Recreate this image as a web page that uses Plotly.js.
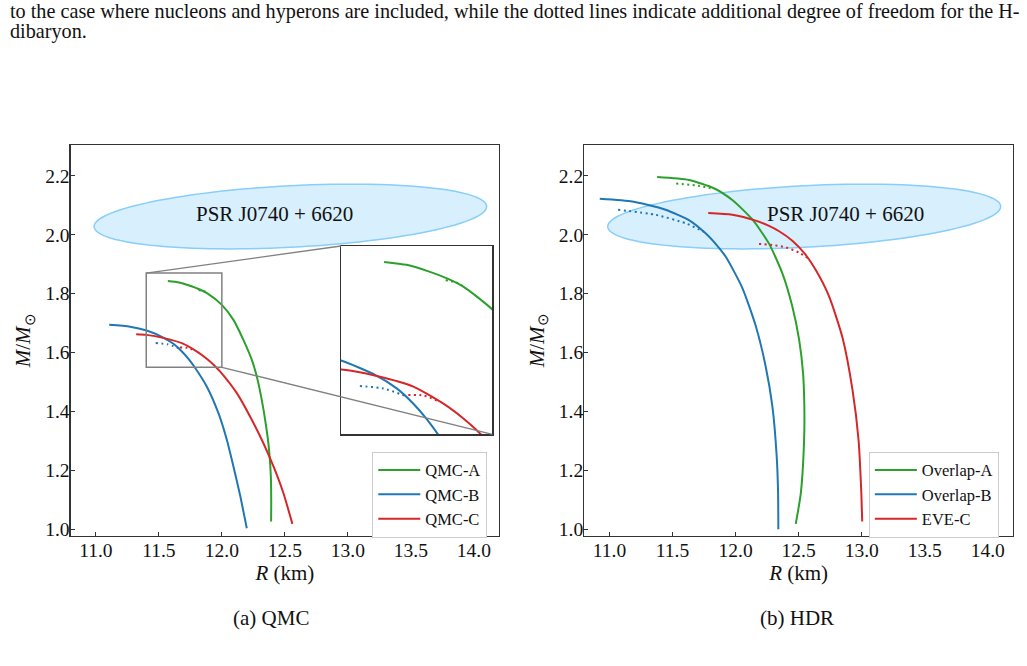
<!DOCTYPE html>
<html>
<head>
<meta charset="utf-8">
<script src="https://cdn.plot.ly/plotly-3.0.1.min.js"></script>
<style>html,body{margin:0;padding:0;background:#fff}#chart{width:1027px;height:666px}</style>
</head>
<body>
<div id="chart"></div>
<script>
// ---------- data ----------
// (a) QMC
const qmcA_R = [11.571, 11.66, 11.753, 11.82, 11.885, 12.0, 12.092, 12.171, 12.238, 12.278, 12.317, 12.352, 12.375, 12.389, 12.392, 12.391];
const qmcA_M = [1.843, 1.838, 1.826, 1.815, 1.801, 1.762, 1.711, 1.643, 1.575, 1.518, 1.439, 1.348, 1.269, 1.179, 1.088, 1.026];
const qmcA_H_R = [11.815, 11.85, 11.88];
const qmcA_H_M = [1.812, 1.809, 1.804];

const qmcB_R = [11.106, 11.272, 11.403, 11.535, 11.621, 11.687, 11.740, 11.786, 11.881, 11.973, 12.040, 12.092, 12.145, 12.198];
const qmcB_M = [1.694, 1.688, 1.675, 1.651, 1.628, 1.602, 1.576, 1.549, 1.484, 1.394, 1.303, 1.213, 1.115, 1.003];
const qmcB_H_R = [11.475, 11.568, 11.663];
const qmcB_H_M = [1.632, 1.628, 1.614];

const qmcC_R = [11.32, 11.403, 11.542, 11.687, 11.806, 11.885, 11.938, 11.987, 12.119, 12.225, 12.330, 12.410, 12.489, 12.560];
const qmcC_M = [1.662, 1.660, 1.649, 1.631, 1.602, 1.577, 1.557, 1.535, 1.462, 1.382, 1.292, 1.213, 1.122, 1.018];
const qmcC_H_R = [11.667, 11.727, 11.793];
const qmcC_H_M = [1.617, 1.616, 1.605];

// (b) HDR
const ovA_R = [11.378, 11.63, 11.828, 11.974, 12.133, 12.265, 12.371, 12.45, 12.504, 12.535, 12.545, 12.543, 12.517, 12.477];
const ovA_M = [2.196, 2.186, 2.158, 2.118, 2.052, 1.970, 1.869, 1.756, 1.643, 1.530, 1.420, 1.300, 1.122, 1.018];
const ovA_H_R = [11.529, 11.68, 11.829];
const ovA_H_M = [2.174, 2.168, 2.156];

const ovB_R = [10.923, 11.18, 11.30, 11.445, 11.63, 11.762, 11.85, 11.921, 12.053, 12.16, 12.239, 12.292, 12.326, 12.337, 12.339];
const ovB_M = [2.122, 2.113, 2.102, 2.085, 2.050, 2.005, 1.965, 1.926, 1.820, 1.690, 1.552, 1.416, 1.247, 1.122, 1.000];
const ovB_H_R = [11.068, 11.365, 11.604, 11.749];
const ovB_H_M = [2.085, 2.068, 2.039, 2.010];

const eveC_R = [11.783, 11.974, 12.16, 12.265, 12.345, 12.45, 12.55, 12.636, 12.742, 12.848, 12.927, 12.975, 12.996, 13.004];
const eveC_M = [2.074, 2.068, 2.048, 2.030, 2.012, 1.980, 1.935, 1.880, 1.790, 1.650, 1.473, 1.303, 1.133, 1.026];
const eveC_H_R = [12.186, 12.30, 12.40, 12.50, 12.575];
const eveC_H_M = [1.969, 1.965, 1.957, 1.940, 1.920];

const legendA = ['QMC-A', 'QMC-B', 'QMC-C'];
const legendB = ['Overlap-A', 'Overlap-B', 'EVE-C'];
const xTicks = [11.0, 11.5, 12.0, 12.5, 13.0, 13.5, 14.0];
const yTicks = [1.0, 1.2, 1.4, 1.6, 1.8, 2.0, 2.2];

// PSR J0740+6620 region (ellipse parameters, data units)
const psrCenter = [12.544, 2.062];
const psrHalf = [1.558, 0.110];
const psrPhaseDeg = 72;
const psrLabel = 'PSR J0740 + 6620';

// inset zoom window
const insetX = [11.4, 12.0];
const insetY = [1.55, 1.87];

// ---------- styling ----------
const GREEN = '#2ca02c', BLUE = '#1f77b4', RED = '#d62728';
const FONT = '"Liberation Serif", "Times New Roman", serif';
const TXT = '#111';
const xRange = [10.8, 14.2], yRange = [0.978, 2.305];
const xDom1 = [0.0688, 0.4859], xDom2 = [0.5689, 0.9864], yDom = [0.1957, 0.7823];
const insetDomX = [0.3320, 0.4794], insetDomY = [0.3479, 0.6306];
const DOT = '2px,3.5px';

function solid(x, y, color, name, xa, ya, leg, show) {
  return {x: x, y: y, type: 'scatter', mode: 'lines', name: name, xaxis: xa, yaxis: ya,
    line: {color: color, width: 2, shape: 'spline', smoothing: 0.6},
    showlegend: show, legend: leg, hoverinfo: 'skip'};
}
function dotted(x, y, color, xa, ya) {
  return {x: x, y: y, type: 'scatter', mode: 'lines', xaxis: xa, yaxis: ya,
    line: {color: color, width: 2, dash: DOT, shape: 'spline', smoothing: 0.6}, showlegend: false, hoverinfo: 'skip'};
}

const traces = [
  solid(qmcA_R, qmcA_M, GREEN, legendA[0], 'x', 'y', 'legend', true),
  solid(qmcB_R, qmcB_M, BLUE, legendA[1], 'x', 'y', 'legend', true),
  solid(qmcC_R, qmcC_M, RED, legendA[2], 'x', 'y', 'legend', true),
  dotted(qmcA_H_R, qmcA_H_M, GREEN, 'x', 'y'),
  dotted(qmcB_H_R, qmcB_H_M, BLUE, 'x', 'y'),
  dotted(qmcC_H_R, qmcC_H_M, RED, 'x', 'y'),
  solid(ovA_R, ovA_M, GREEN, legendB[0], 'x2', 'y2', 'legend2', true),
  solid(ovB_R, ovB_M, BLUE, legendB[1], 'x2', 'y2', 'legend2', true),
  solid(eveC_R, eveC_M, RED, legendB[2], 'x2', 'y2', 'legend2', true),
  dotted(ovA_H_R, ovA_H_M, GREEN, 'x2', 'y2'),
  dotted(ovB_H_R, ovB_H_M, BLUE, 'x2', 'y2'),
  dotted(eveC_H_R, eveC_H_M, RED, 'x2', 'y2'),
  // inset copies
  solid(qmcA_R, qmcA_M, GREEN, legendA[0], 'x3', 'y3', 'legend', false),
  solid(qmcB_R, qmcB_M, BLUE, legendA[1], 'x3', 'y3', 'legend', false),
  solid(qmcC_R, qmcC_M, RED, legendA[2], 'x3', 'y3', 'legend', false),
  dotted(qmcA_H_R, qmcA_H_M, GREEN, 'x3', 'y3'),
  dotted(qmcB_H_R, qmcB_H_M, BLUE, 'x3', 'y3'),
  dotted(qmcC_H_R, qmcC_H_M, RED, 'x3', 'y3')
];

function ellipsePath() {
  const d = psrPhaseDeg * Math.PI / 180;
  let p = '';
  for (let i = 0; i <= 120; i++) {
    const t = 2 * Math.PI * i / 120;
    const x = psrCenter[0] + psrHalf[0] * Math.cos(t);
    const y = psrCenter[1] + psrHalf[1] * Math.cos(t - d);
    p += (i === 0 ? 'M' : 'L') + x.toFixed(4) + ',' + y.toFixed(4);
  }
  return p + 'Z';
}
// paper -> main-axis data (for inset connector lines)
function paperToX(px) { return xRange[0] + (px - xDom1[0]) / (xDom1[1] - xDom1[0]) * (xRange[1] - xRange[0]); }
function paperToY(py) { return yRange[0] + (py - yDom[0]) / (yDom[1] - yDom[0]) * (yRange[1] - yRange[0]); }

const ell = ellipsePath();
const shapes = [
  {type: 'path', path: ell, xref: 'x', yref: 'y', layer: 'below', fillcolor: 'rgba(135,206,250,0.32)', line: {color: '#87cefa', width: 1.5}},
  {type: 'path', path: ell, xref: 'x2', yref: 'y2', layer: 'below', fillcolor: 'rgba(135,206,250,0.32)', line: {color: '#87cefa', width: 1.5}},
  {type: 'rect', xref: 'x', yref: 'y', x0: insetX[0], x1: insetX[1], y0: insetY[0], y1: insetY[1], layer: 'above', line: {color: '#808080', width: 1.5}},
  {type: 'line', xref: 'x', yref: 'y', x0: insetX[0], y0: insetY[1], x1: paperToX(insetDomX[0]), y1: paperToY(insetDomY[1]), layer: 'above', line: {color: '#808080', width: 1.3}},
  {type: 'line', xref: 'x', yref: 'y', x0: insetX[1], y0: insetY[0], x1: paperToX(insetDomX[1]), y1: paperToY(insetDomY[0]), layer: 'above', line: {color: '#808080', width: 1.3}}
];

function mainAxis(dom, anchor, ticks, rng, titleText, standoff, isY) {
  return {domain: dom, anchor: anchor, range: rng, tickvals: ticks, ticktext: ticks.map(v => v.toFixed(1)),
    ticks: 'inside', ticklen: 4, tickwidth: 1, tickcolor: '#333', showline: true, mirror: true,
    linecolor: '#333', linewidth: 1.2, showgrid: false, zeroline: false,
    ticklabelstandoff: isY ? -4 : -3,
    tickfont: {family: FONT, size: 19.5, color: TXT},
    title: {text: titleText, font: {family: FONT, size: 21, color: TXT}, standoff: standoff}};
}

const legendStyle = (x) => ({x: x, y: 0.3218, xanchor: 'left', yanchor: 'top', bgcolor: '#fff', bordercolor: '#ccc', borderwidth: 1,
  font: {family: FONT, size: 16.5, color: TXT}, itemwidth: 42});

const layout = {
  width: 1027, height: 666,
  margin: {l: 0, r: 0, t: 0, b: 0},
  paper_bgcolor: '#fff', plot_bgcolor: '#fff',
  showlegend: true,
  xaxis: mainAxis(xDom1, 'y', xTicks, xRange, '<i>R</i> (km)', 4, false),
  yaxis: mainAxis(yDom, 'x', yTicks, yRange, '<i>M</i>/<i>M</i><sub>⊙</sub>', 8, true),
  xaxis2: mainAxis(xDom2, 'y2', xTicks, xRange, '<i>R</i> (km)', 4, false),
  yaxis2: mainAxis(yDom, 'x2', yTicks, yRange, '<i>M</i>/<i>M</i><sub>⊙</sub>', 8, true),
  xaxis3: {domain: insetDomX, anchor: 'y3', range: insetX, showticklabels: false, ticks: '', showline: true, mirror: true, linecolor: '#333', linewidth: 1.3, showgrid: false, zeroline: false},
  yaxis3: {domain: insetDomY, anchor: 'x3', range: insetY, showticklabels: false, ticks: '', showline: true, mirror: true, linecolor: '#333', linewidth: 1.3, showgrid: false, zeroline: false},
  legend: legendStyle(0.3625),
  legend2: legendStyle(0.846),
  shapes: shapes,
  annotations: [
    {text: psrLabel, xref: 'x', yref: 'y', x: 12.42, y: 2.071, showarrow: false, font: {family: FONT, size: 21, color: TXT}},
    {text: psrLabel, xref: 'x2', yref: 'y2', x: 12.869, y: 2.071, showarrow: false, font: {family: FONT, size: 21, color: TXT}},
    {text: 'to the case where nucleons and hyperons are included, while the dotted lines indicate additional degree of freedom for the H-',
      xref: 'paper', yref: 'paper', x: 8 / 1027, y: 1 - 11 / 666, xanchor: 'left', yanchor: 'middle', showarrow: false, font: {family: FONT, size: 20.2, color: TXT}},
    {text: 'dibaryon.', xref: 'paper', yref: 'paper', x: 8 / 1027, y: 1 - 31 / 666, xanchor: 'left', yanchor: 'middle', showarrow: false, font: {family: FONT, size: 20.2, color: TXT}},
    {text: '(a) QMC', xref: 'paper', yref: 'paper', x: 271 / 1027, y: 1 - 618 / 666, xanchor: 'center', yanchor: 'middle', showarrow: false, font: {family: FONT, size: 21, color: TXT}},
    {text: '(b) HDR', xref: 'paper', yref: 'paper', x: 797 / 1027, y: 1 - 618 / 666, xanchor: 'center', yanchor: 'middle', showarrow: false, font: {family: FONT, size: 21, color: TXT}}
  ]
};

Plotly.newPlot('chart', traces, layout, {staticPlot: true, displayModeBar: false});
</script>
</body>
</html>
